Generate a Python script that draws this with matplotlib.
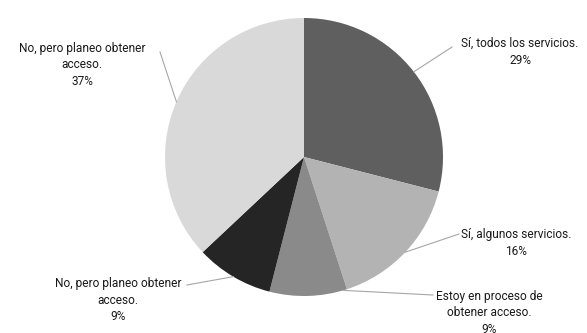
import numpy as np
import matplotlib
matplotlib.use("Agg")
import matplotlib.pyplot as plt

plt.rcParams["font.family"] = ["Roboto", "DejaVu Sans"]

LABELS = [
    "Sí, todos los servicios.",
    "Sí, algunos servicios.",
    "Estoy en proceso de\nobtener acceso.",
    "No, pero planeo obtener\nacceso.",
    "No, pero planeo obtener\nacceso.",
]
VALUES = [29, 16, 9, 9, 37]
COLORS = ["#5f5f5f", "#b3b3b3", "#8a8a8a", "#252525", "#d9d9d9"]

# layout in pixels from the top-left of the 587x333 canvas
W, H = 587, 333
CENTER = (304, 157)
RADIUS = 139
TEXT_POS = [(520, 52), (516, 243), (489, 313), (118, 300), (82, 65)]
TEXT_EDGE = [(452, 47), (459, 234), (433, 295), (187, 285), (160, 52)]
ANCHOR_FRAC = [0.5, 0.5, 0.05, 0.5, 0.5]


def flip(p):
    return (p[0], H - p[1])


fig = plt.figure(figsize=(W / 100, H / 100), dpi=100)
ax = fig.add_axes([0, 0, 1, 1])

wedges, _ = ax.pie(VALUES, colors=COLORS, startangle=90, counterclock=False,
                   center=flip(CENTER), radius=RADIUS,
                   wedgeprops=dict(linewidth=0))

cx, cy = flip(CENTER)
for w, lab, val, tp, te, fr in zip(wedges, LABELS, VALUES, TEXT_POS, TEXT_EDGE, ANCHOR_FRAC):
    a1, a2 = w.theta1, w.theta2
    ang = np.deg2rad(a2 - (a2 - a1) * fr)
    px = cx + RADIUS * np.cos(ang)
    py = cy + RADIUS * np.sin(ang)
    ex, ey = flip(te)
    ax.plot([px, ex], [py, ey], color="#a6a6a6", lw=0.8)
    tx, ty = flip(tp)
    ax.text(tx, ty, f"{lab}\n{val}%", ha="center", va="center",
            fontsize=8.6, color="#1a1a1a", linespacing=1.35)

ax.set_xlim(0, W)
ax.set_ylim(0, H)
ax.set_aspect("equal")
ax.axis("off")

fig.savefig("out.png", dpi=100)
